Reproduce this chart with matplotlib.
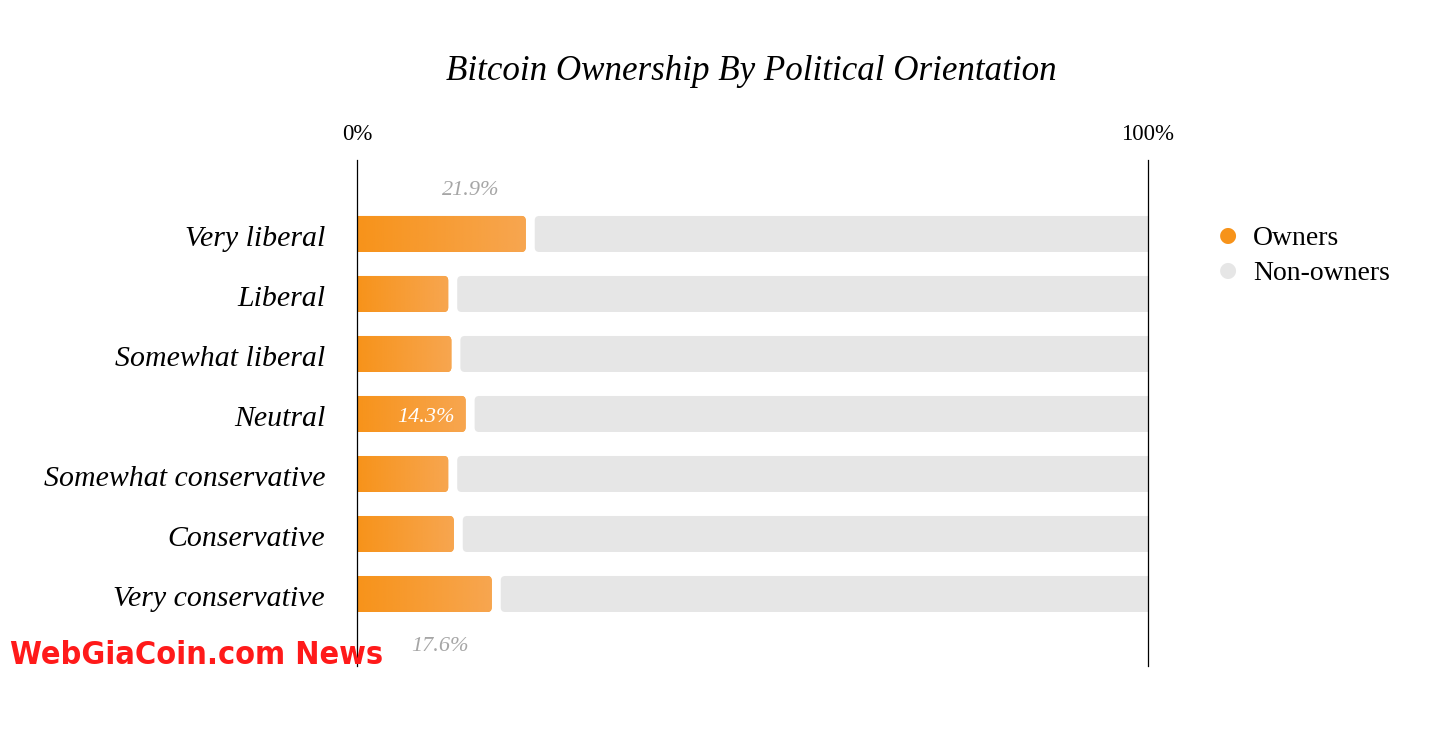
import numpy as np
import matplotlib.pyplot as plt
from matplotlib.patches import FancyBboxPatch
from matplotlib.colors import LinearSegmentedColormap

# data
categories = ["Very liberal", "Liberal", "Somewhat liberal", "Neutral",
              "Somewhat conservative", "Conservative", "Very conservative"]
owners = [21.9, 12.1, 12.5, 14.3, 12.1, 12.8, 17.6]
shown_labels = {0: "21.9%", 3: "14.3%", 6: "17.6%"}
xtick_vals = [0, 100]
xtick_labels = ["0%", "100%"]

serif = "Liberation Serif"
orange = "#F7931A"
grey = "#E6E6E6"
grad = LinearSegmentedColormap.from_list("og", ["#F7931A", "#F7A650"])

fig = plt.figure(figsize=(14.42, 7.38), dpi=100)
ax = fig.add_axes([357 / 1442, 1 - 666 / 738, 791 / 1442, 506 / 738])

gap = 0.57     # half the gap between orange and grey, in %
h = 0.6        # bar height in row units
rs = 0.55      # corner radius in x units
asp = (4.5 / 60) / rs

for i, v in enumerate(owners):
    # orange part, starts left of axis so left corners get clipped
    o = FancyBboxPatch((-3, i - h / 2), v - gap + 3, h,
                       boxstyle=f"round,pad=0,rounding_size={rs}",
                       mutation_aspect=asp, facecolor=orange,
                       edgecolor="none", zorder=2)
    ax.add_patch(o)
    im = ax.imshow(np.linspace(0, 1, 256).reshape(1, -1), cmap=grad,
                   aspect="auto", extent=(0, v - gap, i + h / 2, i - h / 2),
                   zorder=2.5)
    im.set_clip_path(o)
    g = FancyBboxPatch((v + gap, i - h / 2), 103 - v - gap, h,
                       boxstyle=f"round,pad=0,rounding_size={rs}",
                       mutation_aspect=asp, facecolor=grey,
                       edgecolor="none", zorder=2)
    ax.add_patch(g)

ax.set_xlim(0, 100)
ax.set_ylim(7.2, -1.233)

# value labels
ax.text(owners[0] - 7.5, -0.73, shown_labels[0], ha="center", va="center",
        fontsize=16, style="italic", color="#A6A6A6", family=serif)
ax.text(owners[3] - 2.0, 3.06, shown_labels[3], ha="right", va="center",
        fontsize=16, style="italic", color="white", family=serif, zorder=5)
ax.text(owners[6] - 7.1, 6.87, shown_labels[6], ha="center", va="center",
        fontsize=16, style="italic", color="#A6A6A6", family=serif)

ax.set_yticks([i + 0.03 for i in range(len(categories))])
ax.set_yticklabels(categories, family=serif, style="italic", fontsize=21.5)
ax.tick_params(axis="y", length=0, pad=23)
ax.xaxis.tick_top()
ax.set_xticks(xtick_vals)
ax.set_xticklabels(xtick_labels, family=serif, fontsize=16.5)
ax.tick_params(axis="x", length=0, pad=11)

for s in ["top", "bottom"]:
    ax.spines[s].set_visible(False)
for s in ["left", "right"]:
    ax.spines[s].set_linewidth(0.9)
    ax.spines[s].set_zorder(4)

fig.text(751 / 1442, 1 - 72 / 738, "Bitcoin Ownership By Political Orientation",
         ha="center", va="center", fontsize=25.2, style="italic", family=serif)

# legend
for k, (lab, col) in enumerate([("Owners", orange), ("Non-owners", grey)]):
    yy = 1 - (236 + 35 * k) / 738
    fig.text(1228 / 1442, yy + 0.002, "\u25CF", color=col, fontsize=15,
             ha="center", va="center", family="DejaVu Sans")
    fig.text(1253 / 1442, yy - 0.004, lab, ha="left", va="center",
             fontsize=20, family=serif)

# watermark
fig.text(10 / 1442, 1 - 656 / 738, "WebGiaCoin.com News", color="#FF1A1A",
         fontsize=23.2, fontweight="bold", fontstretch="condensed",
         ha="left", va="center",
         family=["DejaVu Sans"])

fig.savefig("out.png", dpi=100, facecolor="white")
